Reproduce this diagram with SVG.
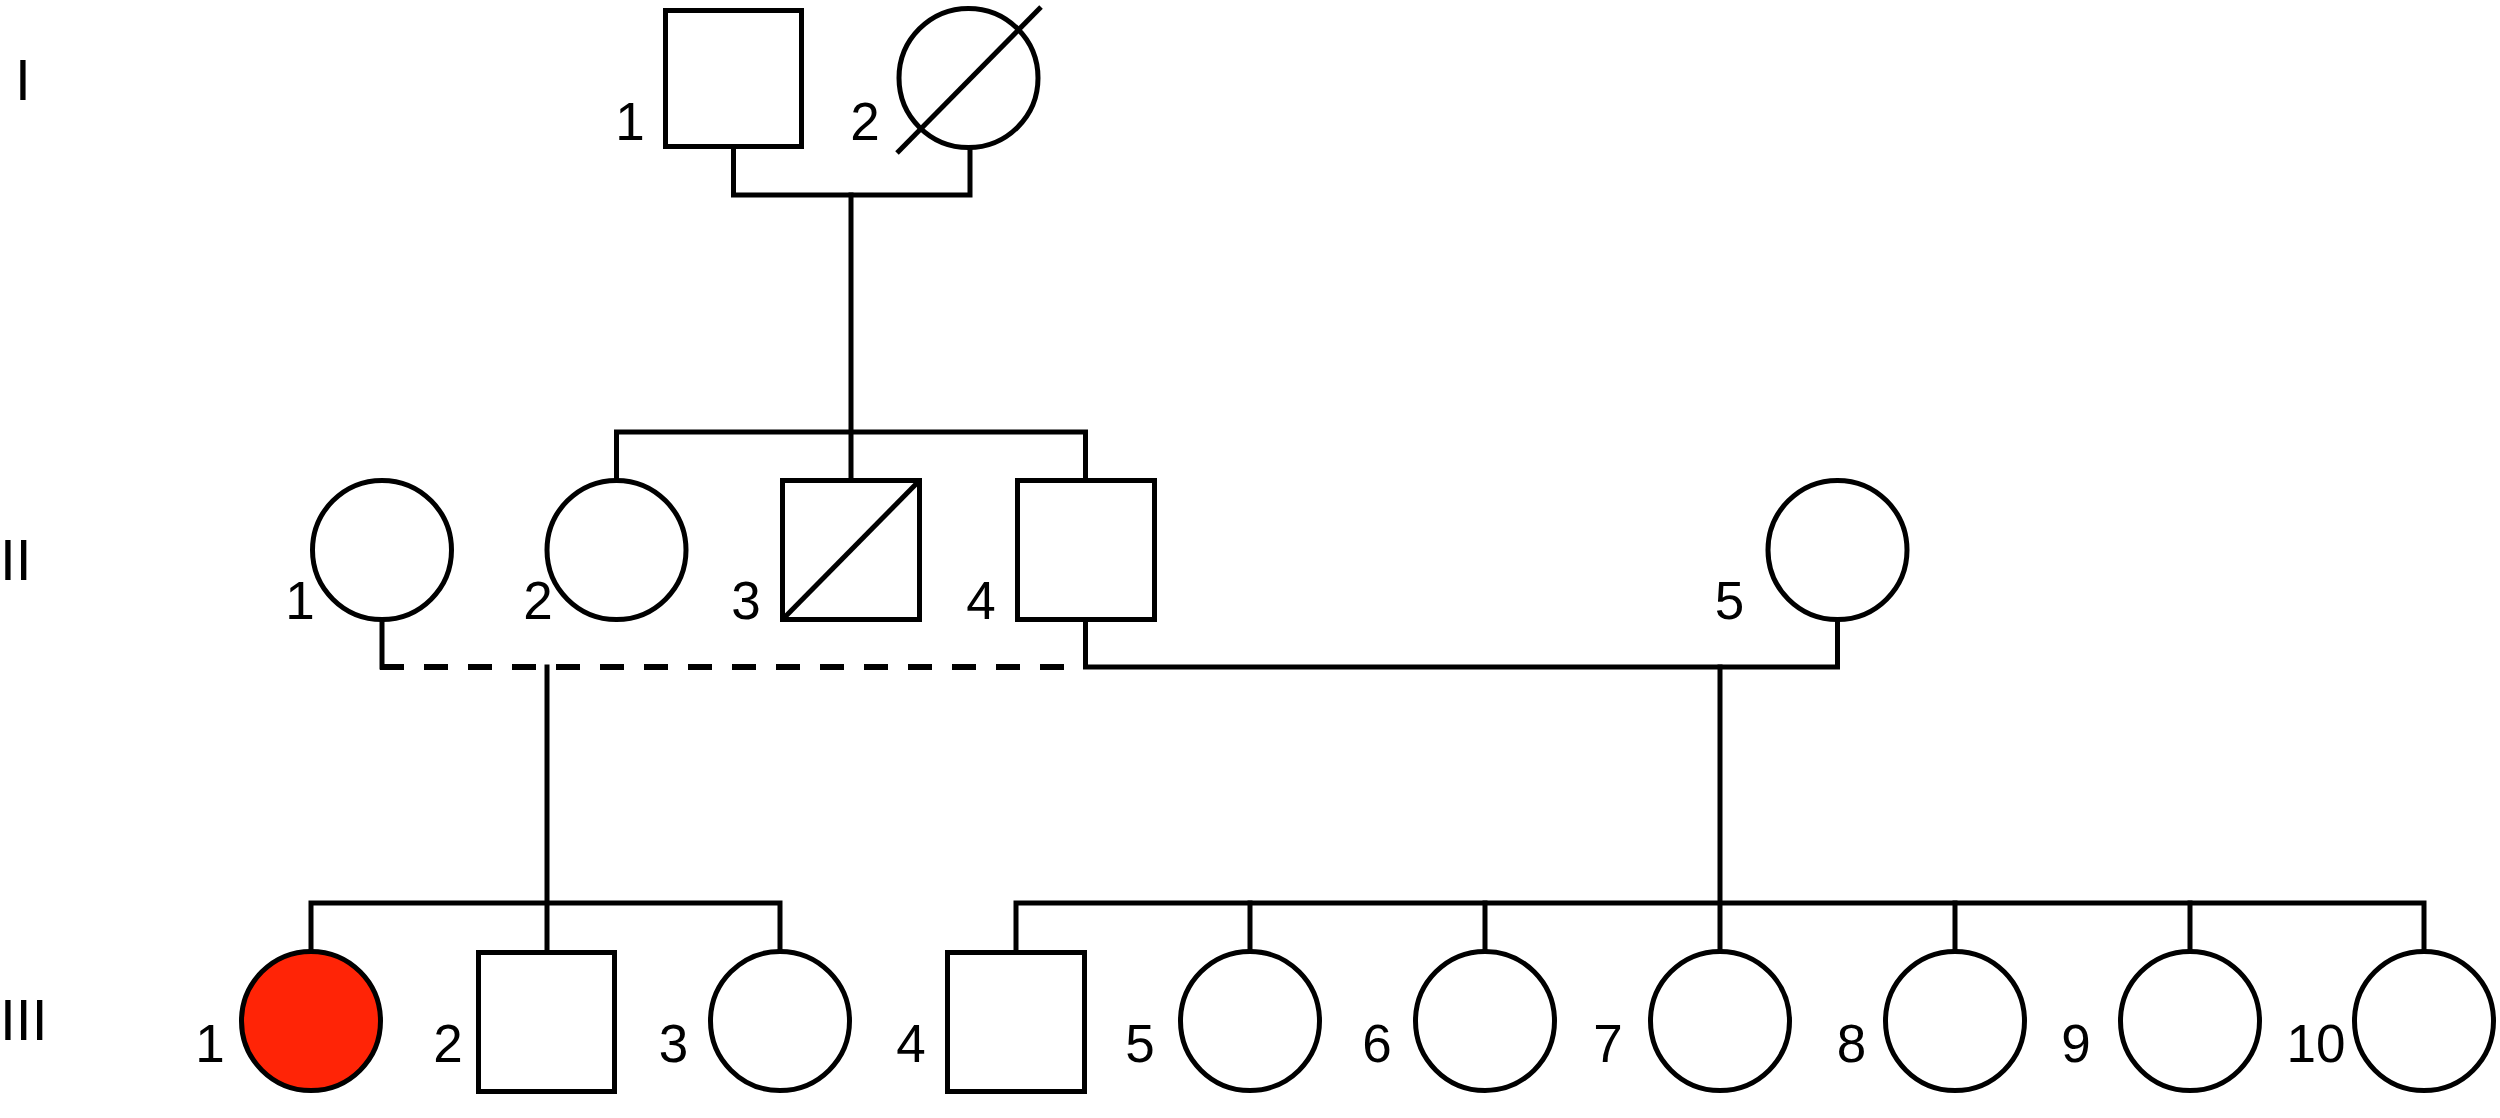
<svg xmlns="http://www.w3.org/2000/svg" width="2500" height="1118" viewBox="0 0 2500 1118">
<style>
.s{fill:#fff;stroke:#000;stroke-width:5}
.a{fill:#ff2406;stroke:#000;stroke-width:5}
.d{stroke:#000;stroke-width:5;fill:none}
.c{stroke:#000;stroke-width:5;fill:none;stroke-linecap:square}
.dash{stroke:#000;stroke-width:6;fill:none;stroke-dasharray:24 20}
.n{font-family:"Liberation Sans",Arial,sans-serif;font-size:53px;fill:#000;text-anchor:middle}
.g{font-family:"Liberation Sans",Arial,sans-serif;font-size:57px;fill:#000}
</style>
<rect width="2500" height="1118" fill="#fff"/>
<g id="connectors">
<path class="c" d="M733.5 147V195H970V147"/>
<path class="c" d="M851 195V478"/>
<path class="c" d="M616.5 478V432H1085.5V478"/>
<path class="c" d="M382 622V667"/>
<path class="dash" d="M380 667H1084"/>
<path class="c" d="M1085.5 622V667H1837.5V622"/>
<path class="c" d="M547 667V950"/>
<path class="c" d="M311 950V903H780V950"/>
<path class="c" d="M1720 667V950"/>
<path class="c" d="M1016 950V903H2424V950"/>
<path class="c" d="M1250 903V950M1485 903V950M1955 903V950M2190 903V950"/>
</g>
<g id="gen-labels">
<text class="g" x="15" y="100">I</text>
<text class="g" x="0" y="580">II</text>
<text class="g" x="0" y="1040">III</text>
</g>
<g id="I-1"><rect class="s" x="665.5" y="10.5" width="136" height="136"/><text class="n" x="630" y="140">1</text></g>
<g id="I-2"><circle class="s" cx="968.5" cy="78" r="69.5"/><line class="d" x1="897" y1="153" x2="1041" y2="7"/><text class="n" x="865" y="140">2</text></g>
<g id="II-1"><circle class="s" cx="382" cy="550" r="69.5"/><text class="n" x="300" y="619">1</text></g>
<g id="II-2"><circle class="s" cx="616.5" cy="550" r="69.5"/><text class="n" x="538" y="619">2</text></g>
<g id="II-3"><rect class="s" x="782.5" y="480.5" width="137" height="139"/><line class="d" x1="782.5" y1="619.5" x2="919.5" y2="480.5"/><text class="n" x="746" y="619">3</text></g>
<g id="II-4"><rect class="s" x="1017.5" y="480.5" width="137" height="139"/><text class="n" x="981" y="619">4</text></g>
<g id="II-5"><circle class="s" cx="1837.5" cy="550" r="69.5"/><text class="n" x="1729.5" y="619">5</text></g>
<g id="III-1"><circle class="a" cx="311" cy="1021" r="69.5"/><text class="n" x="210" y="1062">1</text></g>
<g id="III-2"><rect class="s" x="478.5" y="952.5" width="136" height="139"/><text class="n" x="448" y="1062">2</text></g>
<g id="III-3"><circle class="s" cx="780" cy="1021" r="69.5"/><text class="n" x="673.5" y="1062">3</text></g>
<g id="III-4"><rect class="s" x="947.5" y="952.5" width="137" height="139"/><text class="n" x="911" y="1062">4</text></g>
<g id="III-5"><circle class="s" cx="1250" cy="1021" r="69.5"/><text class="n" x="1140" y="1062">5</text></g>
<g id="III-6"><circle class="s" cx="1485" cy="1021" r="69.5"/><text class="n" x="1377" y="1062">6</text></g>
<g id="III-7"><circle class="s" cx="1720" cy="1021" r="69.5"/><text class="n" x="1608" y="1062">7</text></g>
<g id="III-8"><circle class="s" cx="1955" cy="1021" r="69.5"/><text class="n" x="1851.5" y="1062">8</text></g>
<g id="III-9"><circle class="s" cx="2190" cy="1021" r="69.5"/><text class="n" x="2076" y="1062">9</text></g>
<g id="III-10"><circle class="s" cx="2424" cy="1021" r="69.5"/><text class="n" x="2316" y="1062">10</text></g>
</svg>
